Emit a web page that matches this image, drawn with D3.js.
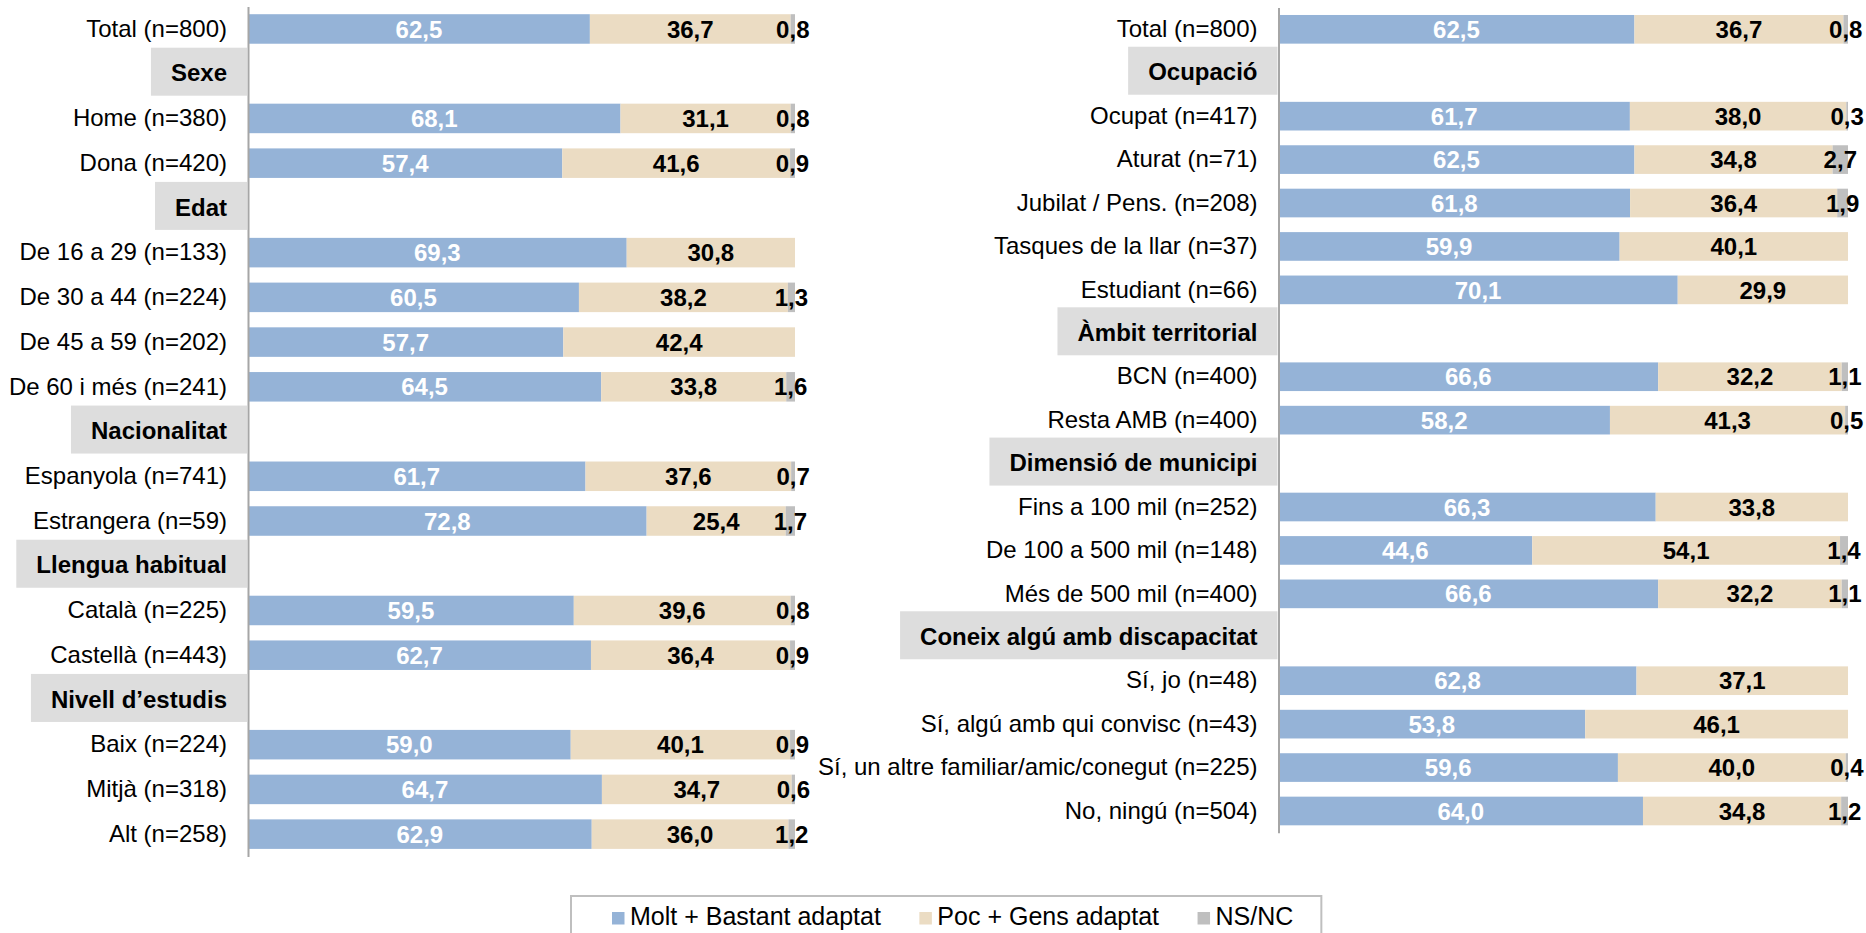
<!DOCTYPE html>
<html>
<head>
<meta charset="utf-8">
<title>Valoració per segments</title>
<style type="text/css">
body{ margin: 0; background: #fff; }
svg{ display: block; font-family: "Liberation Sans", Arial, sans-serif; }
.axis path{ stroke: #a6a6a6; stroke-width: 2; fill: none; }
</style>
<script src="https://cdn.jsdelivr.net/npm/d3@7"></script>
</head>
<body>
<script>
// left block: labels + three series (null = group header row / no value)
var leftLabels = ["Total (n=800)", "Sexe", "Home (n=380)", "Dona (n=420)", "Edat",
  "De 16 a 29 (n=133)", "De 30 a 44 (n=224)", "De 45 a 59 (n=202)", "De 60 i més (n=241)",
  "Nacionalitat", "Espanyola (n=741)", "Estrangera (n=59)", "Llengua habitual",
  "Català (n=225)", "Castellà (n=443)", "Nivell d’estudis",
  "Baix (n=224)", "Mitjà (n=318)", "Alt (n=258)"];
var leftMolt = [62.5, null, 68.1, 57.4, null, 69.3, 60.5, 57.7, 64.5, null, 61.7, 72.8, null, 59.5, 62.7, null, 59.0, 64.7, 62.9];
var leftPoc  = [36.7, null, 31.1, 41.6, null, 30.8, 38.2, 42.4, 33.8, null, 37.6, 25.4, null, 39.6, 36.4, null, 40.1, 34.7, 36.0];
var leftNs   = [0.8,  null, 0.8,  0.9,  null, null, 1.3,  null, 1.6,  null, 0.7,  1.7,  null, 0.8,  0.9,  null, 0.9,  0.6,  1.2];

// right block
var rightLabels = ["Total (n=800)", "Ocupació", "Ocupat (n=417)", "Aturat (n=71)",
  "Jubilat / Pens. (n=208)", "Tasques de la llar (n=37)", "Estudiant (n=66)",
  "Àmbit territorial", "BCN (n=400)", "Resta AMB (n=400)", "Dimensió de municipi",
  "Fins a 100 mil (n=252)", "De 100 a 500 mil (n=148)", "Més de 500 mil (n=400)",
  "Coneix algú amb discapacitat", "Sí, jo (n=48)", "Sí, algú amb qui convisc (n=43)",
  "Sí, un altre familiar/amic/conegut (n=225)", "No, ningú (n=504)"];
var rightMolt = [62.5, null, 61.7, 62.5, 61.8, 59.9, 70.1, null, 66.6, 58.2, null, 66.3, 44.6, 66.6, null, 62.8, 53.8, 59.6, 64.0];
var rightPoc  = [36.7, null, 38.0, 34.8, 36.4, 40.1, 29.9, null, 32.2, 41.3, null, 33.8, 54.1, 32.2, null, 37.1, 46.1, 40.0, 34.8];
var rightNs   = [0.8,  null, 0.3,  2.7,  1.9,  null, null, null, 1.1,  0.5,  null, null, 1.4,  1.1,  null, null, null, 0.4,  1.2];

var seriesNames = ["Molt + Bastant adaptat", "Poc + Gens adaptat", "NS/NC"];
var seriesColors = ["#95b3d7", "#ebdcc3", "#bfbfbf"];
var labelColors = ["#ffffff", "#000000", "#000000"];

const width = 1866, height = 933;
const fontSize = 24;
const svg = d3.select("body").append("svg").attr("width", width).attr("height", height);

const fmt = v => d3.format(".1f")(v).replace(".", ",");

function drawPanel(labels, molt, poc, ns, cfg) {
  const g = svg.append("g");
  const y = d3.scaleBand().domain(labels).range([cfg.top, cfg.bottom])
    .paddingInner(0.34).paddingOuter(0.17);
  const x = d3.scaleLinear().domain([0, 100]).range([cfg.left, cfg.right]);

  // bars (100% stacked)
  const rows = labels.map((l, i) => ({label: l, vals: [molt[i], poc[i], ns[i]]}))
    .filter(r => r.vals[0] !== null);
  rows.forEach(r => {
    const total = d3.sum(r.vals);
    let acc = 0;
    r.segs = r.vals.map((v, k) => {
      const s = {k: k, v: v, x0: acc / total * 100, x1: (acc + (v || 0)) / total * 100};
      acc += v || 0;
      return s;
    });
  });

  const rowG = g.selectAll("g.row").data(rows).enter().append("g").attr("class", "row")
    .attr("transform", d => `translate(0,${y(d.label)})`);

  rowG.selectAll("rect").data(d => d.segs.filter(s => s.v !== null)).enter().append("rect")
    .attr("x", s => x(s.x0))
    .attr("width", s => x(s.x1) - x(s.x0))
    .attr("y", 0)
    .attr("height", y.bandwidth())
    .attr("fill", s => seriesColors[s.k]);

  rowG.selectAll("text").data(d => d.segs.filter(s => s.v !== null)).enter().append("text")
    .attr("x", s => (x(s.x0) + x(s.x1)) / 2)
    .attr("y", y.bandwidth() / 2)
    .attr("dy", "0.36em")
    .attr("text-anchor", "middle")
    .attr("font-size", fontSize)
    .attr("font-weight", "bold")
    .attr("fill", s => labelColors[s.k])
    .text(s => fmt(s.v));

  // category axis
  const axisG = g.append("g").attr("class", "axis")
    .attr("transform", `translate(${cfg.left},0)`)
    .call(d3.axisLeft(y).tickSize(0).tickSizeOuter(0).tickPadding(21));
  axisG.attr("font-family", null).attr("font-size", null);
  axisG.selectAll(".tick text")
    .attr("font-size", fontSize)
    .attr("fill", "#000")
    .attr("font-weight", (d, i) => molt[i] === null ? "bold" : null);

  // grey boxes behind the group headings
  axisG.selectAll(".tick").filter((d, i) => molt[i] === null).each(function() {
    const t = d3.select(this).select("text");
    const bb = t.node().getBBox();
    d3.select(this).insert("rect", "text")
      .attr("x", bb.x - 20)
      .attr("y", -26)
      .attr("width", -1 - (bb.x - 20))
      .attr("height", 48)
      .attr("fill", "#dddddd");
  });
  axisG.select(".domain").raise();
}

drawPanel(leftLabels, leftMolt, leftPoc, leftNs, {left: 248, right: 795, top: 6.6, bottom: 856.5});
drawPanel(rightLabels, rightMolt, rightPoc, rightNs, {left: 1278.5, right: 1848, top: 7.6, bottom: 832.7});

// legend
const legend = svg.append("g");
const legendBox = legend.append("rect")
  .attr("x", 571).attr("y", 896).attr("height", 60)
  .attr("fill", "#fff").attr("stroke", "#bfbfbf").attr("stroke-width", 2);
let lx = 612;
seriesNames.forEach((name, k) => {
  legend.append("rect").attr("x", lx).attr("y", 912).attr("width", 12.5).attr("height", 12.5)
    .attr("fill", seriesColors[k]);
  const t = legend.append("text").attr("x", lx + 18).attr("y", 925)
    .attr("font-size", 25).attr("fill", "#000").text(name);
  lx += 18 + t.node().getComputedTextLength() + 38.5;
});
legendBox.attr("width", lx - 38.5 + 28 - 571);
</script>
</body>
</html>
